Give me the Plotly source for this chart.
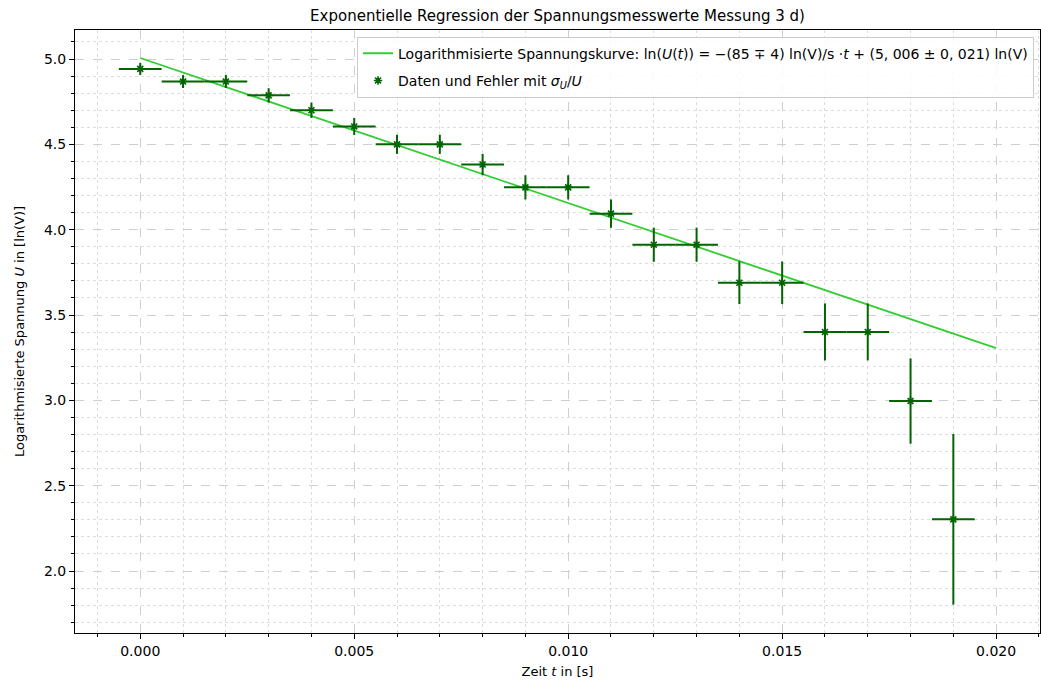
import plotly.graph_objects as go

# Measured data (time in s, logarithmised voltage ln(U))
t_data = [0.000, 0.001, 0.002, 0.003, 0.004, 0.005, 0.006, 0.007, 0.008, 0.009,
          0.010, 0.011, 0.012, 0.013, 0.014, 0.015, 0.016, 0.017, 0.018, 0.019]
lnU = [4.942, 4.868, 4.868, 4.787, 4.700, 4.605, 4.500, 4.500, 4.382, 4.248,
       4.248, 4.094, 3.912, 3.912, 3.689, 3.689, 3.401, 3.401, 2.996, 2.303]
err_lnU = [0.036, 0.038, 0.038, 0.042, 0.045, 0.050, 0.056, 0.056, 0.0625, 0.071,
           0.071, 0.083, 0.100, 0.100, 0.125, 0.125, 0.167, 0.167, 0.250, 0.500]
err_t = [0.0005] * 20

# Regression line parameters
slope = -85.0
intercept = 5.006
t_fit = [0.0, 0.020]
y_fit = [intercept + slope * t for t in t_fit]

FONT = "DejaVu Sans"

fig = go.Figure()
fig.add_trace(go.Scatter(
    x=t_fit, y=y_fit, mode="lines",
    line=dict(color="#32CD32", width=1.8),
    legendgroup="fit",
    name="Logarithmisierte Spannungskurve: ln(<i>U</i>(<i>t</i>)) = −(85 ∓ 4) ln(V)/s ·<i>t</i> + (5, 006 ± 0, 021) ln(V)",
))
fig.add_trace(go.Scatter(
    x=t_data, y=lnU, mode="markers",
    marker=dict(symbol="asterisk-open", size=7, color="#006400", line=dict(color="#006400", width=1.6)),
    error_x=dict(type="data", array=err_t, visible=True, color="#006400", thickness=2, width=0),
    error_y=dict(type="data", array=err_lnU, visible=True, color="#006400", thickness=2, width=0),
    legendgroup="data",
    name="Daten und Fehler mit <i>σ<sub>U</sub></i>/<i>U</i>",
))

axis_common = dict(
    showline=True, linecolor="black", linewidth=1, mirror=True,
    ticks="outside", ticklen=5, tickwidth=1, tickcolor="black",
    showgrid=True, gridcolor="#cfcfcf", griddash="dash", gridwidth=1,
    zeroline=False,
    tickfont=dict(family=FONT, size=14, color="black"),
)

fig.update_layout(
    width=1041, height=681,
    margin=dict(l=75, r=1, t=30, b=48),
    paper_bgcolor="white", plot_bgcolor="white",
    title=dict(text="Exponentielle Regression der Spannungsmesswerte Messung 3 d)",
               x=(75 + 1040) / 2 / 1041, xanchor="center", y=0.977, yanchor="middle",
               font=dict(family=FONT, size=15, color="black")),
    font=dict(family=FONT, color="black"),
    xaxis=dict(**axis_common, range=[-0.001525, 0.021025], dtick=0.005, tick0=0,
               tickformat=".3f",
               title=dict(text="Zeit <i>t</i> in [s]", font=dict(family=FONT, size=13), standoff=9),
               minor=dict(dtick=0.001, tick0=0, ticks="outside", ticklen=3, tickcolor="black",
                          showgrid=True, gridcolor="#dddddd", griddash="dot", gridwidth=1)),
    yaxis=dict(**axis_common, range=[1.637, 5.17], dtick=0.5, tick0=0,
               tickformat=".1f",
               title=dict(text="Logarithmisierte Spannung <i>U</i> in [ln(V)]", font=dict(family=FONT, size=13), standoff=16),
               minor=dict(dtick=0.1, tick0=0, ticks="outside", ticklen=3, tickcolor="black",
                          showgrid=True, gridcolor="#dddddd", griddash="dot", gridwidth=1)),
    legend=dict(x=0.9938, y=0.989, xanchor="right", yanchor="top",
                bgcolor="rgba(255,255,255,0.85)", bordercolor="#cccccc", borderwidth=1,
                font=dict(family=FONT, size=14, color="black"),
                traceorder="grouped", tracegroupgap=6, itemwidth=30),
    showlegend=True,
)

fig.write_html("out.html")
